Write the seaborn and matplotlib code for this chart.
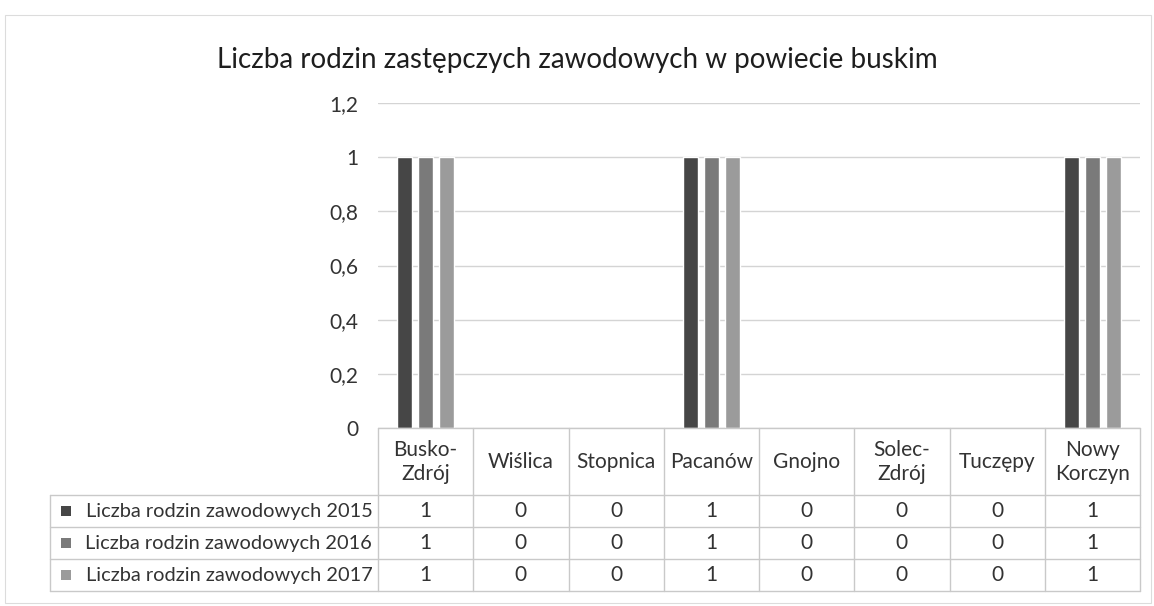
import matplotlib
matplotlib.use("Agg")
import matplotlib.pyplot as plt
import matplotlib.transforms as mtransforms
from matplotlib.lines import Line2D
from matplotlib.patches import Rectangle
import seaborn as sns
import pandas as pd

# ---- data ----
categories = ["Busko-\nZdrój", "Wiślica", "Stopnica", "Pacanów", "Gnojno",
              "Solec-\nZdrój", "Tuczępy", "Nowy\nKorczyn"]
series_names = ["Liczba rodzin zawodowych 2015",
                "Liczba rodzin zawodowych 2016",
                "Liczba rodzin zawodowych 2017"]
values_2015 = [1, 0, 0, 1, 0, 0, 0, 1]
values_2016 = [1, 0, 0, 1, 0, 0, 0, 1]
values_2017 = [1, 0, 0, 1, 0, 0, 0, 1]
y_ticks = [0, 0.2, 0.4, 0.6, 0.8, 1.0, 1.2]
y_tick_labels = ["0", "0,2", "0,4", "0,6", "0,8", "1", "1,2"]
title = "Liczba rodzin zastępczych zawodowych w powiecie buskim"

series_values = [values_2015, values_2016, values_2017]
colors = ["#464646", "#7a7a7a", "#9b9b9b"]

rows = []
for name, vals in zip(series_names, series_values):
    for c, v in zip(categories, vals):
        rows.append({"gmina": c, "seria": name, "wartosc": v})
df = pd.DataFrame(rows)

sns.set_theme(style="white")
plt.rcParams["font.family"] = ["Lato", "DejaVu Sans"]

TXT = "#333333"
FS = 15

W, H = 1154, 606
fig = plt.figure(figsize=(W / 100, H / 100), dpi=100)
fig.patch.set_facecolor("white")

x0, x1 = 378, 1140
y_top, y_bot = 103, 428
ax = fig.add_axes([x0 / W, 1 - y_bot / H, (x1 - x0) / W, (y_bot - y_top) / H])

sns.barplot(data=df, x="gmina", y="wartosc", hue="seria", order=categories,
            hue_order=series_names, palette=colors, width=0.66, gap=0.3,
            legend=False, ax=ax, saturation=1)

ax.set_ylim(0, 1.2)
ax.set_xlim(-0.5, len(categories) - 0.5)
ax.set_yticks(y_ticks)
ax.set_yticklabels(y_tick_labels, fontsize=FS, color=TXT)
ax.tick_params(axis="y", length=0, pad=14)
ax.set_xticks([])
ax.set_xlabel("")
ax.set_ylabel("")
for s in ax.spines.values():
    s.set_visible(False)
ax.yaxis.grid(True, color="#d4d4d4", linewidth=1)
ax.set_axisbelow(True)

# ---- data table under the axes ----
ph = y_bot - y_top
def ay(py):
    return -(py - y_bot) / ph

tr = mtransforms.blended_transform_factory(ax.transData, ax.transAxes)
line_kw = dict(color="#c9c9c9", linewidth=1, clip_on=False)
n = len(categories)
header_bottom = 495
row_edges = [495, 527, 559, 591]
legend_left_ax = (50 - x0) / (x1 - x0)

ax.add_line(Line2D([-0.5, n - 0.5], [0, 0], transform=tr, **line_kw))
for i in range(n + 1):
    ax.add_line(Line2D([i - 0.5, i - 0.5], [ay(y_bot), ay(row_edges[-1])], transform=tr, **line_kw))
for py in row_edges:
    ax.add_line(Line2D([legend_left_ax, 1], [ay(py), ay(py)], transform=ax.transAxes, **line_kw))
ax.add_line(Line2D([legend_left_ax, legend_left_ax], [ay(row_edges[0]), ay(row_edges[-1])],
                   transform=ax.transAxes, **line_kw))

hy = ay((y_bot + header_bottom) / 2)
for i, c in enumerate(categories):
    ax.text(i, hy, c, transform=tr, ha="center", va="center", fontsize=FS,
            color=TXT, linespacing=1.25)

for r, (name, vals, col) in enumerate(zip(series_names, series_values, colors)):
    cy = ay((row_edges[r] + row_edges[r + 1]) / 2)
    for i, v in enumerate(vals):
        ax.text(i, cy, str(v), transform=tr, ha="center", va="center", fontsize=FS,
                color=TXT)
    ax.text(-0.5 - 0.06, cy, name, transform=tr, ha="right", va="center",
            fontsize=14.4, color=TXT)
    kx = (61 - x0) / (x1 - x0)
    ax.add_patch(Rectangle((kx, cy - 5 / ph), 10 / (x1 - x0), 10 / ph,
                           transform=ax.transAxes, facecolor=col, edgecolor="none",
                           clip_on=False))

fig.text(0.5, 1 - 60 / H, title, ha="center", va="center", fontsize=20,
         color="#1e1e1e")

fig.add_artist(Rectangle((5 / W, 3 / H), (W - 8) / W, (H - 18) / H,
                         transform=fig.transFigure, fill=False,
                         edgecolor="#dcdcdc", linewidth=0.8))

fig.savefig("out.png", dpi=100, facecolor="white")
